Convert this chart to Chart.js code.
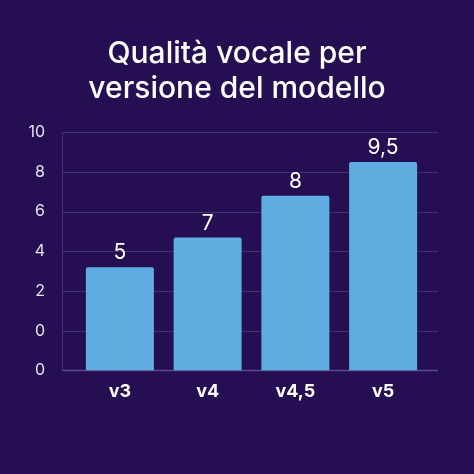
<!DOCTYPE html>
<html>
<head>
<meta charset="utf-8">
<script src="https://cdn.jsdelivr.net/npm/chart.js@4"></script>
<style>
    html, body { margin: 0; padding: 0; background: #250e51; }
    #wrap { width: 474px; height: 474px; }
</style>
</head>
<body>
<div id="wrap"><canvas id="chart"></canvas></div>
<script>
// values
const versions = ["v3", "v4", "v4,5", "v5"];
const barHeights = [5.2, 6.7, 8.8, 10.5];
const barLabels = ["5", "7", "8", "9,5"];
const yTickLabels = ["0", "0", "2", "4", "6", "8", "10"];

const gridColor = "#45316f";

// grid lines run a bit wider than the bars
const wideGrid = {
    id: "wideGrid",
    beforeDatasetsDraw(chart) {
        const ctx = chart.ctx;
        const area = chart.chartArea;
        const y = chart.scales.y;
        ctx.save();
        y.ticks.forEach(function (t, i) {
            const py = Math.round(y.getPixelForValue(t.value)) + 0.5;
            ctx.strokeStyle = i === 0 ? "#5a4a8a" : gridColor;
            ctx.lineWidth = i === 0 ? 1.5 : 1;
            ctx.beginPath();
            ctx.moveTo(area.left - 14, py);
            ctx.lineTo(area.right + 11, py);
            ctx.stroke();
        });
        ctx.beginPath();
        ctx.strokeStyle = gridColor;
        ctx.moveTo(area.left - 14 + 0.5, area.top);
        ctx.lineTo(area.left - 14 + 0.5, area.bottom);
        ctx.stroke();
        ctx.restore();
    }
};

const valueLabels = {
    id: "valueLabels",
    afterDatasetsDraw(chart) {
        const ctx = chart.ctx;
        const meta = chart.getDatasetMeta(0);
        ctx.save();
        ctx.fillStyle = "#ffffff";
        ctx.font = "21px Inter";
        ctx.textAlign = "center";
        ctx.textBaseline = "middle";
        meta.data.forEach(function (bar, i) {
            ctx.fillText(barLabels[i], bar.x, bar.y - 14);
        });
        ctx.restore();
    }
};

new Chart(document.getElementById("chart"), {
    type: "bar",
    data: {
        labels: versions,
        datasets: [{
            data: barHeights,
            backgroundColor: "#60aee1",
            borderRadius: { topLeft: 2, topRight: 2 },
            borderSkipped: "bottom",
            categoryPercentage: 1,
            barPercentage: 0.775
        }]
    },
    options: {
        responsive: true,
        maintainAspectRatio: false,
        animation: false,
        layout: { padding: { left: 0, right: 0, top: 0, bottom: 70 } },
        plugins: {
            legend: { display: false },
            tooltip: { enabled: false },
            title: {
                display: true,
                text: ["Qualità vocale per", "versione del modello"],
                color: "#ffffff",
                font: { family: "Inter", size: 30, weight: "500", lineHeight: 1.17 },
                padding: { top: 36, bottom: 26 }
            }
        },
        scales: {
            x: {
                grid: { display: false },
                border: { display: false },
                ticks: {
                    color: "#ffffff",
                    padding: 2,
                    font: { family: "Inter", size: 18, weight: "bold" }
                }
            },
            y: {
                min: 0,
                max: 12,
                grid: { display: false },
                border: { display: false },
                afterFit: function (s) { s.width = 76; },
                ticks: {
                    stepSize: 2,
                    color: "#e6e3f0",
                    padding: 23,
                    font: { family: "Inter", size: 16 },
                    callback: function (v, i) { return yTickLabels[i]; }
                }
            },
            side: {
                position: "right",
                min: 0,
                max: 12,
                grid: { display: false },
                border: { display: false },
                ticks: { display: false },
                afterFit: function (s) { s.width = 47; }
            }
        }
    },
    plugins: [wideGrid, valueLabels]
});
</script>
</body>
</html>
